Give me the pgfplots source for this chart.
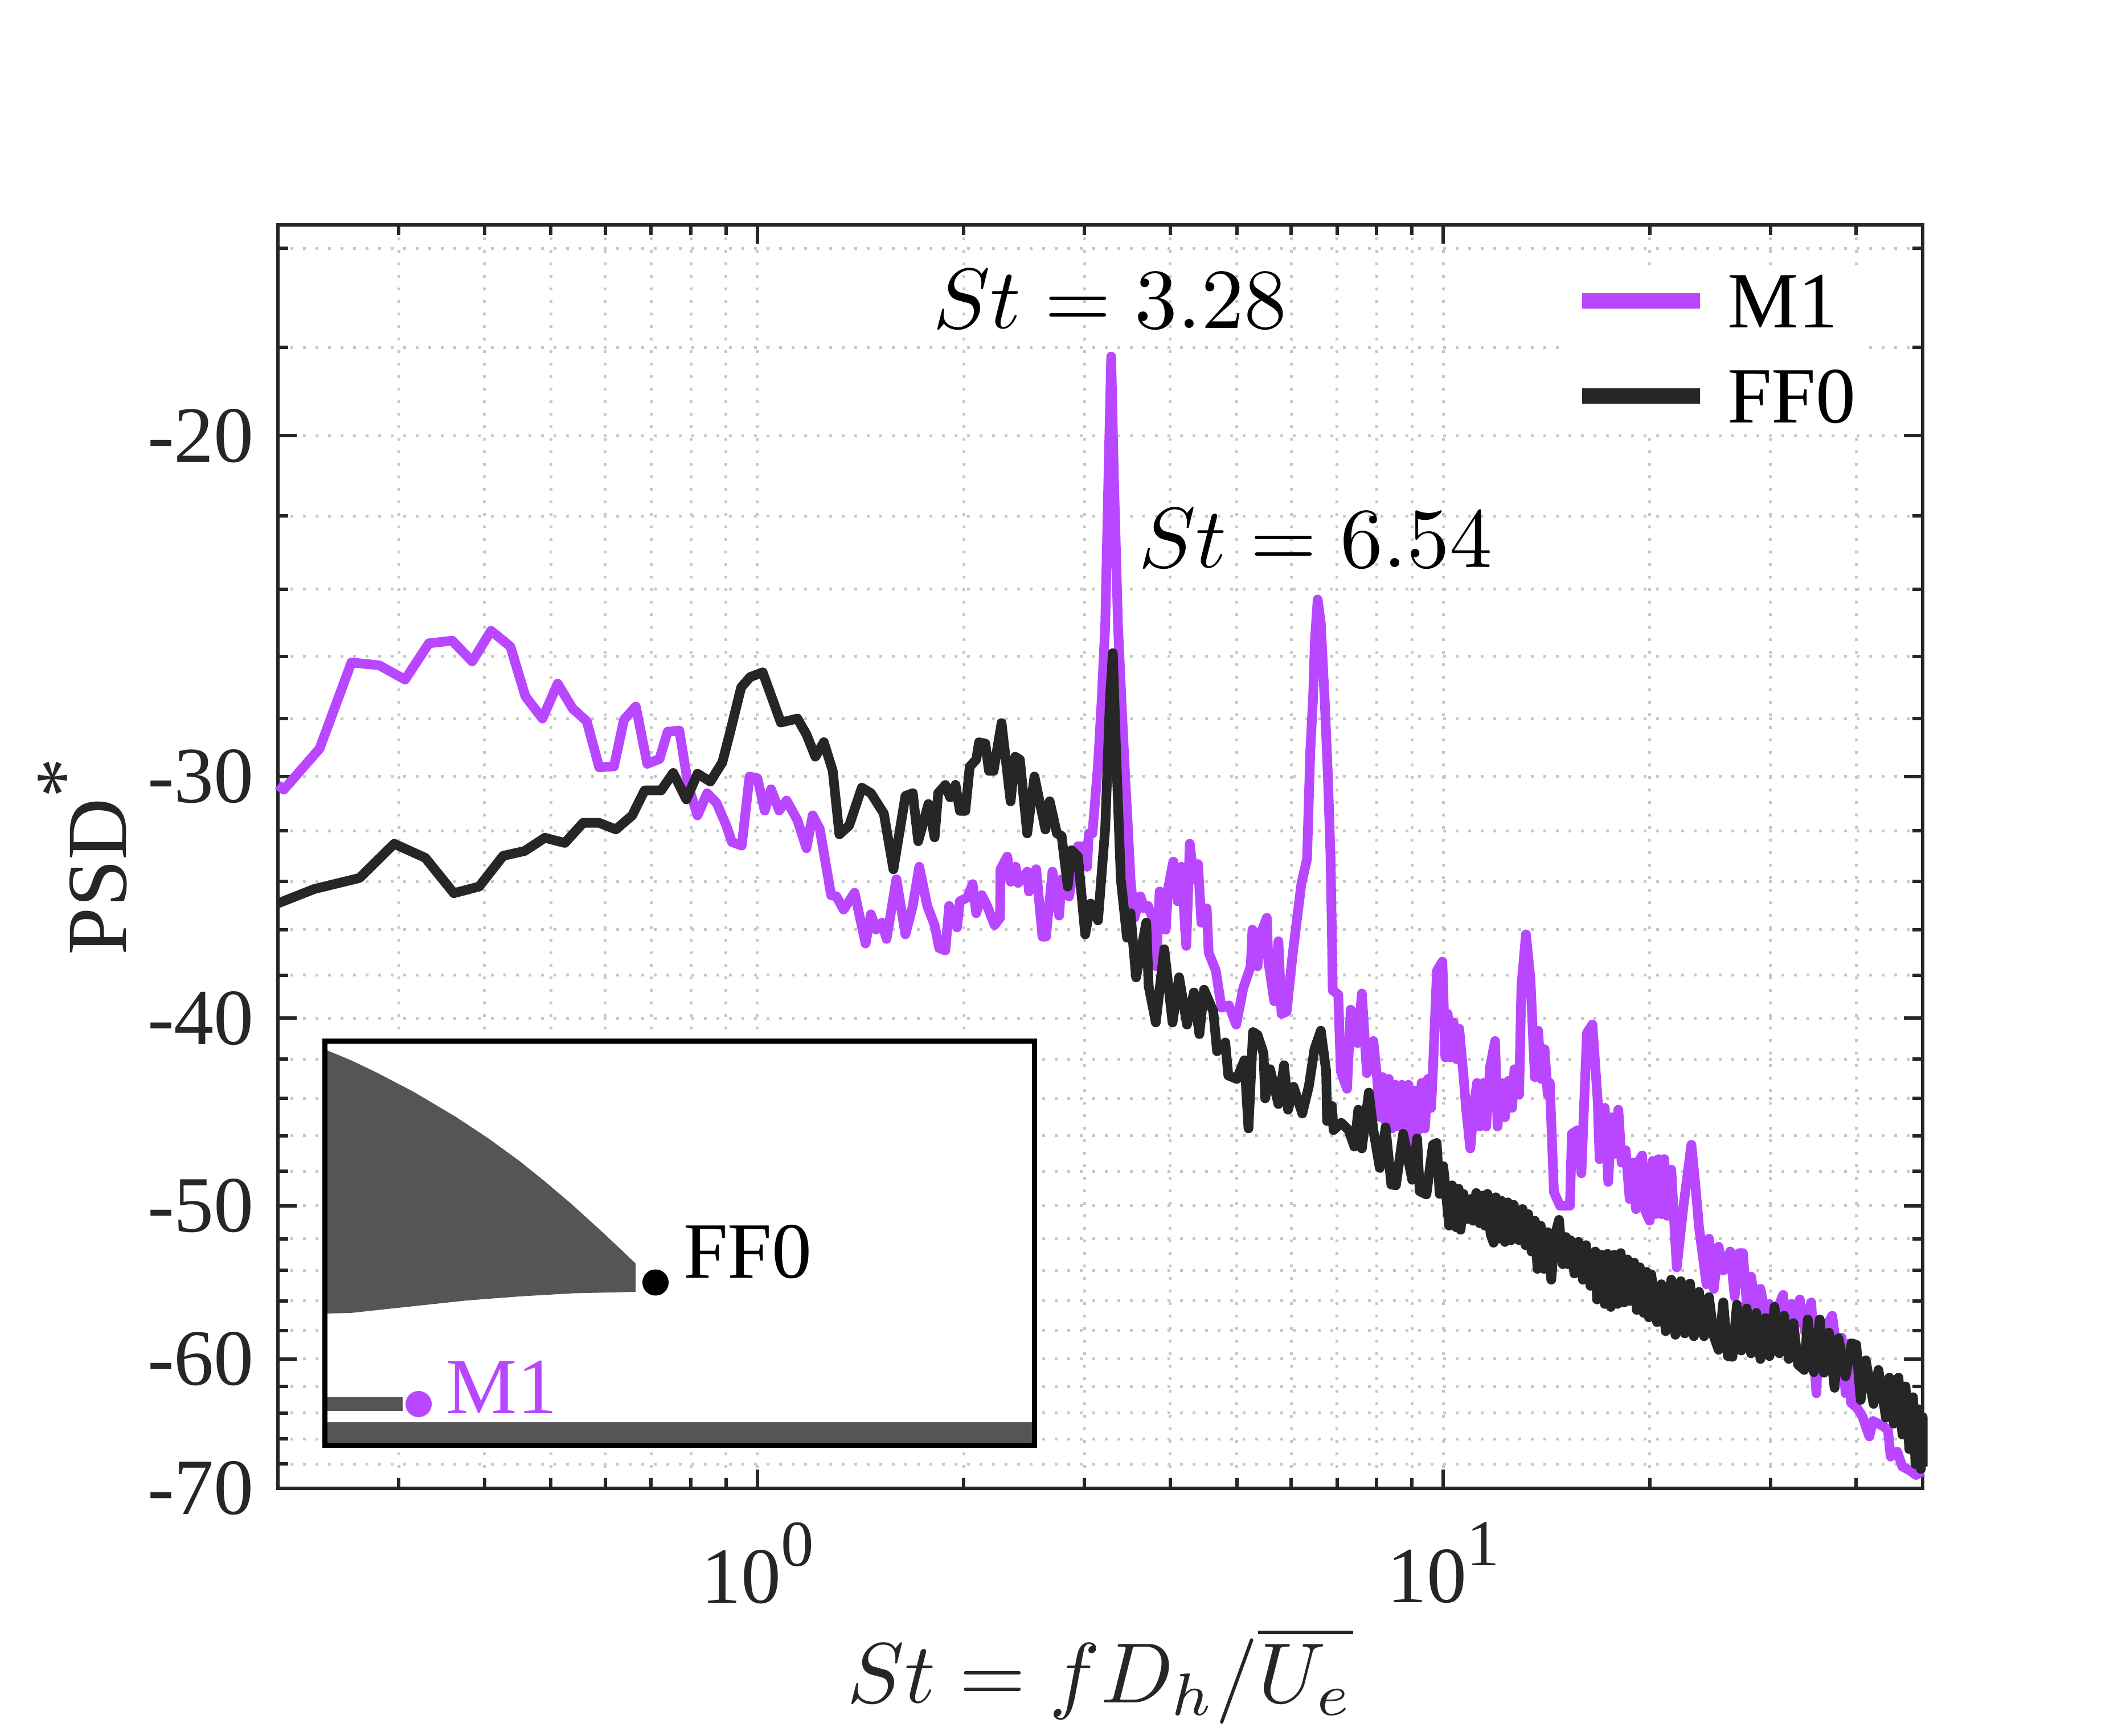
\documentclass[border=0pt]{standalone}
\usepackage[no-math]{fontspec}
\setmainfont{Liberation Serif}
\usepackage{pgfplots}
\usepackage{pgfplotstable}
\pgfplotsset{compat=1.18}

\definecolor{mone}{RGB}{184,71,255}
\definecolor{ink}{RGB}{38,38,38}
\definecolor{griddot}{RGB}{200,200,200}
\definecolor{nozzle}{RGB}{85,85,85}
\newcommand\lab{\fontsize{28}{30}\selectfont}
\newcommand\mathlab[1]{\scalebox{3}{$#1$}}
\newcommand\expo[2]{#1\raisebox{13pt}{\fontsize{23}{23}\selectfont #2}}

% St, |PSD*| (the PSD axis is logarithmic in the magnitude, reversed)
\pgfplotstableread{
0.2 30.3
0.204 30.47
0.23 29.02
0.256 26.19
0.281 26.28
0.3065 26.73
0.332 25.6
0.359 25.52
0.384 26.16
0.409 25.22
0.4365 25.7
0.459 27.27
0.486 28
0.5115 26.86
0.538 27.67
0.564 28.09
0.588 29.67
0.618 29.64
0.639 28.04
0.665 27.6
0.691 29.55
0.72 29.38
0.74 28.44
0.7695 28.4
0.793 30.32
0.818 31.42
0.845 30.6
0.872 30.96
0.901 31.8
0.918 32.43
0.949 32.57
0.974 30
1.0 30.06
1.025 31.24
1.047 30.46
1.076 31.24
1.103 30.87
1.144 31.6
1.179 32.67
1.204 31.42
1.233 31.93
1.281 34.55
1.304 34.6
1.336 35.15
1.386 34.45
1.438 36.6
1.464 35.35
1.491 36
1.519 35.7
1.543 36.4
1.595 33.9
1.644 36.2
1.685 35
1.722 33.4
1.769 35
1.813 35.8
1.842 36.8
1.88 36.9
1.904 35
1.955 35.9
1.974 34.8
2.023 34.65
2.06 34.1
2.085 35.3
2.124 34.55
2.163 35
2.217 35.8
2.258 35.5
2.262 33.5
2.314 33
2.34 34
2.38 33.4
2.4 34.05
2.474 33.6
2.489 34.4
2.55 33.5
2.604 36.3
2.635 36.3
2.693 33.6
2.754 35.4
2.777 33.9
2.847 34.6
2.934 32.6
2.988 32.6
3.025 33.4
3.043 32.1
3.08 32.1
3.138 29.6
3.176 27.45
3.215 25.06
3.25 21
3.28 18.2
3.31 21
3.356 25.06
3.396 27.45
3.438 30.05
3.467 31.7
3.5 33.9
3.544 35.5
3.618 34.6
3.663 35.1
3.712 35
3.767 35.5
3.814 37.6
3.86 34.4
3.94 36
3.97 34.3
4.04 33.2
4.1 34.8
4.15 33.4
4.22 36.7
4.27 32.5
4.33 33.9
4.39 33.3
4.44 35.7
4.52 35.1
4.55 37
4.66 37.8
4.75 39.5
4.87 39.4
4.99 40.3
5.11 38.6
5.24 37.6
5.27 36
5.36 37.6
5.43 36.1
5.53 35.5
5.56 37.4
5.67 39.2
5.75 36.5
5.81 39.8
5.91 39.7
6.03 37.1
6.21 34.1
6.33 33.1
6.4 29.1
6.46 27.3
6.5 25.5
6.56 24.3
6.63 25
6.72 27.5
6.79 30
6.85 33
6.88 36
6.9 38.7
7.03 38.9
7.09 42.6
7.24 43.5
7.33 39.6
7.5 41.2
7.61 38.85
7.74 42.7
7.91 41.1
8.0 42.8
8.1 45
8.16 42.9
8.25 45.3
8.33 43
8.42 45.6
8.52 43.3
8.62 45.5
8.7 43.3
8.8 45.6
8.9 43.3
9.0 47
9.1 43.6
9.2 45.7
9.3 43.2
9.4 45.6
9.5 43
9.6 44.5
9.65 42.9
9.79 37.8
9.97 37.4
10.07 41.9
10.15 39.8
10.25 41.9
10.35 40.2
10.46 42
10.55 40.5
10.7 42.8
10.8 44.6
10.95 46.7
11.08 44.5
11.2 43.2
11.3 45.5
11.45 43.2
11.55 45.5
11.7 42.4
11.9 41.1
12 45.5
12.15 43.2
12.3 45
12.45 43.1
12.6 44.5
12.7 42.5
12.9 43.8
13 38.5
13.2 36.2
13.4 38.2
13.6 42.9
13.75 40.6
13.9 43
14.05 41.5
14.2 43.8
14.3 43.2
14.5 49.2
14.8 50
15.3 50
15.4 45.9
15.7 45.7
15.9 48.1
16.2 40.7
16.5 40.3
16.8 44.2
16.9 47.3
17.2 44.5
17.4 48.6
17.6 45
17.8 47
18.0 44.6
18.2 47.5
18.45 46.8
18.7 49.6
18.9 47.5
19.1 50.2
19.3 47.4
19.5 47.1
19.7 50.3
20 50.9
20.2 47.4
20.4 50.5
20.6 47.3
20.8 50.5
21 47.3
21.2 50.6
21.5 47.9
21.9 53.8
22.4 50
23 46.5
23.3 48.7
23.6 51.3
24.2 54.9
24.4 52
24.8 55.2
25.2 52.5
25.6 54
26.2 52.8
26.6 55.7
27.0 52.9
27.35 52.9
27.7 56.2
28.1 54.4
28.6 56.4
29 55.2
29.5 56.9
29.9 56.2
30.4 57
31.3 55.6
31.6 57.4
32.2 56.2
32.6 57.6
33.1 55.9
33.7 58.1
34.4 56.1
34.8 60.6
35 62.5
35.2 58.8
36.9 57
37.7 60.2
38.1 58.5
38.6 62.5
39.1 58.9
39.3 63.2
40.1 63.6
40.8 64.2
41.8 65.8
42.3 64.6
43.8 65
44.5 65.3
44.9 67.4
45.9 67
46.7 68.2
47.8 68.5
48.9 68.9
50 68.6
}\mone

\pgfplotstableread{
0.2 34.89
0.226 34.3
0.263 33.85
0.2955 32.5
0.328 33.05
0.361 34.47
0.393 34.2
0.426 32.97
0.458 32.78
0.49 32.27
0.524 32.47
0.557 31.7
0.588 31.7
0.622 31.95
0.657 31.42
0.685 30.5
0.724 30.5
0.754 29.87
0.788 30.83
0.818 29.9
0.854 30.18
0.889 29.5
0.913 28.44
0.947 26.98
0.976 26.65
1.018 26.5
1.082 28.13
1.144 28
1.179 28.53
1.215 29.3
1.25 28.8
1.288 29.8
1.317 32.14
1.361 31.8
1.42 30.4
1.464 30.6
1.529 31.35
1.579 33.5
1.644 30.7
1.685 30.6
1.716 32.4
1.776 31
1.813 32.25
1.835 30.6
1.88 30.3
1.91 30.75
1.945 30.3
1.974 31.25
2.01 31.25
2.04 29.65
2.085 29.4
2.105 28.8
2.15 28.85
2.176 29.8
2.21 29.8
2.27 28.15
2.34 30.9
2.376 29.3
2.414 29.4
2.474 32.1
2.535 30
2.63 31.95
2.668 30.9
2.733 32.1
2.777 32.2
2.835 34.2
2.87 32.75
2.934 33
3.006 36.2
3.062 34.9
3.138 35.6
3.215 31.9
3.266 27.4
3.298 25.9
3.335 29.2
3.388 33.9
3.459 36.35
3.5 35.3
3.566 38.1
3.69 35.7
3.72 38.5
3.81 40.2
3.92 36.85
4.03 40.2
4.12 38.1
4.23 40.3
4.33 38.8
4.41 40.76
4.48 38.67
4.62 39.67
4.68 41.6
4.81 41.17
4.86 42.82
5.0 43
5.13 42.05
5.2 45.6
5.28 40.66
5.36 40.8
5.47 41.7
5.5 44
5.59 42.5
5.75 44.3
5.86 42.3
5.94 44.6
6.05 43.4
6.23 44.8
6.37 43.35
6.49 41.5
6.63 40.6
6.75 42.6
6.77 45.2
6.88 44.4
6.92 45.7
7.1 45.3
7.28 45.7
7.42 46.6
7.52 44.6
7.61 46.7
7.79 43.7
7.91 45.7
8.08 47.8
8.24 45.55
8.4 48.75
8.53 48.8
8.74 45.9
9.01 48.48
9.16 46.15
9.24 49.15
9.45 49.33
9.66 46.5
9.78 46.4
9.88 49.3
10.0 47.7
10.2 51.2
10.3 48.8
10.45 51.3
10.53 49
10.6 51.45
10.7 49.3
10.85 50.8
10.97 49.6
11.05 50.9
11.17 49.25
11.3 51.05
11.42 49.4
11.5 51.2
11.6 49.3
11.72 51.7
11.84 52.25
11.93 49.5
12.03 52
12.15 49.7
12.3 52.2
12.42 49.8
12.55 52.1
12.67 49.95
12.8 52
12.91 52.1
13.05 50.2
13.18 52.4
13.3 50.5
13.45 52.8
13.6 50.9
13.72 53.9
13.87 51.2
14.02 53.9
14.2 51.6
14.37 54.6
14.55 51.8
14.75 50.85
14.94 53.6
15.1 51.9
15.2 53.6
15.33 52.1
15.53 54.2
15.75 52.2
15.98 54.6
16.15 52.4
16.39 55
16.66 52.8
16.76 55.9
17.0 53
17.2 56.2
17.36 52.95
17.55 56.4
17.75 53
17.95 56.2
18.15 52.9
18.35 56.1
18.56 53.3
18.72 56
18.98 53.5
19.15 56.6
19.35 53.8
19.6 56.8
19.8 54.1
19.95 57.1
20.1 54.25
20.5 57.43
20.8 54.9
21.1 58.05
21.5 54.6
21.8 58.3
22.2 54.7
22.5 58.2
22.9 54.85
23.2 58.4
23.6 55.4
24 58.4
24.4 55.75
24.8 58.4
25.2 59.35
25.6 56.1
26 59.8
26.4 59.85
26.8 56.25
27.2 59.4
27.7 56.5
28.1 59.6
28.6 56.8
29 60
29.5 57.15
29.9 59.8
30.4 56.4
30.9 59.6
31.4 57
31.9 60
32.4 57.5
32.9 60.4
33.6 60.8
34 57.25
34.7 60.95
35.4 57.25
35.9 61
36.5 58.15
37.2 62.1
37.7 58.55
38.6 61.25
39.4 58.9
40 59
40.6 63
41.3 60.1
42.4 63.3
43.1 60.8
44.2 64.35
44.7 61.35
45.4 64.8
46.1 61.35
46.7 65.65
47.2 62
47.8 66.8
48.4 62.8
48.8 68
49.3 63.7
49.7 68.4
50 64.3
50 68.2
}\ffzero

\begin{document}
\begin{tikzpicture}
\path[use as bounding box] (-97.6pt,-87pt) rectangle (649pt,522.8pt);
\begin{axis}[
    scale only axis,
    width=577.6pt, height=443.8pt,
    xmode=log, ymode=log,
    y dir=reverse,
    xmin=0.2, xmax=50,
    ymin=15.56, ymax=70,
    xtick={1,10},
    xticklabels={\expo{10}{0},\expo{10}{1}},
    minor xtick={0.3,0.4,0.5,0.6,0.7,0.8,0.9,2,3,4,5,6,7,8,9,20,30,40},
    ytick={20,30,40,50,60,70},
    yticklabels={-20,-30,-40,-50,-60,-70},
    minor ytick={16,18,22,24,26,28,32,34,36,38,42,44,46,48,52,54,56,58,62,64,66,68},
    grid=both,
    grid style={griddot, line width=1pt, dash pattern=on 1pt off 3.4pt},
    minor grid style={griddot, line width=1pt, dash pattern=on 1pt off 3.4pt},
    major grid style={griddot, line width=1pt, dash pattern=on 1pt off 3.4pt},
    tick align=inside,
    major tick length=6.6pt,
    minor tick length=3.6pt,
    tick style={ink, line width=1.2pt},
    axis line style={ink, line width=1.3pt},
    every tick label/.append style={font=\lab, text=ink},
    yticklabel style={inner sep=0pt, xshift=-8.2pt},
    xticklabel style={inner sep=0pt, yshift=-11.7pt},
    xlabel={\mathlab{St = fD_h/\overline{U_e}}},
    xlabel style={text=ink, inner sep=0pt, yshift=-8.1pt},
    ylabel={PSD\raisebox{12.7pt}{\fontsize{28}{28}\selectfont *}},
    ylabel style={font=\fontsize{30}{32}\selectfont, text=ink, inner sep=0pt, yshift=7pt},
    clip=false,
    legend style={
        at={(axis description cs:0.7836,0.9653)}, anchor=north west,
        draw=none, fill=white, font=\lab, text=black,
        inner xsep=2.4pt, inner ysep=2pt,
        row sep=13pt,
        nodes={inner sep=0pt, anchor=base west},
    },
    legend cell align=left,
    legend image code/.code={
        \draw[#1, line width=5.4pt, line cap=butt] (0pt,9.4pt) -- (41.4pt,9.4pt);
        \path (49.4pt,0pt);},
]
\addplot[mone, line width=3.4pt, line join=round] table {\mone};
\addlegendentry{M1}
\addplot[ink, line width=3.4pt, line join=round] table {\ffzero};
\addlegendentry{FF0}
\end{axis}
\node[anchor=base west, inner sep=0pt] at (229.8pt,407.4pt) {\mathlab{St = 3.28}};
\node[anchor=base west, inner sep=0pt] at (302pt,323.4pt) {\mathlab{St = 6.54}};
% inset sketch of the nozzle, in pixels of the inset box
\begin{axis}[
    at={(16.4pt,15pt)}, anchor=south west,
    scale only axis,
    width=249.2pt, height=142pt,
    xmin=0, xmax=1246, ymin=0, ymax=710,
    xtick=\empty, ytick=\empty,
    axis line style={black, line width=1.8pt},
    axis background/.style={fill=white},
    axis on top,
    clip=false,
]
\addplot[fill=nozzle, draw=none] coordinates {
    (0,696) (46,677) (92,655) (157,621) (231,577) (287,540) (342,500) (388,463)
    (435,423) (490,373) (546,320) (546,270) (435,267.5) (342,262) (250,255)
    (157,245) (92,238) (46,233) (0,232)} \closedcycle;
\addplot[fill=nozzle, draw=none] coordinates {(0,0) (1246,0) (1246,41) (0,41)} \closedcycle;
\addplot[fill=nozzle, draw=none] coordinates {(0,61) (137,61) (137,85) (0,85)} \closedcycle;
\addplot[only marks, mark=*, mark size=4.4pt, black] coordinates {(581,286.5)};
\addplot[only marks, mark=*, mark size=4.4pt, mone, mark options={fill=mone, draw=mone}] coordinates {(165,73)};
\node[anchor=base west, inner sep=0pt, font=\lab] at (axis cs:629,294) {FF0};
\node[anchor=base west, inner sep=0pt, font=\lab, text=mone] at (axis cs:213,56) {M1};
\end{axis}
\end{tikzpicture}
\end{document}
